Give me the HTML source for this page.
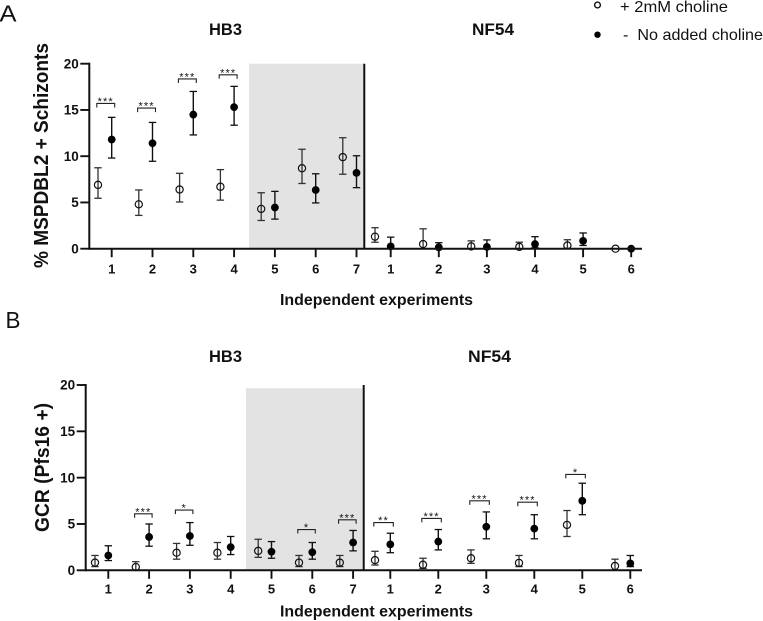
<!DOCTYPE html>
<html lang="en">
<head>
<meta charset="utf-8">
<title>Choline effect on schizonts and gametocyte conversion</title>
<style>
html,body{margin:0;padding:0;background:#fff;}
svg{display:block;}
text{font-family:"Liberation Sans",sans-serif;fill:#111;}
.b{font-weight:bold;}
</style>
</head>
<body>
<svg id="chart" width="763" height="621" viewBox="0 0 763 621" xmlns="http://www.w3.org/2000/svg">
  <rect width="763" height="621" fill="#fff"/>
  <text x="-0.5" y="21.5" font-size="23" textLength="17" lengthAdjust="spacingAndGlyphs">A</text>
  <text x="5.5" y="328" font-size="23" textLength="15" lengthAdjust="spacingAndGlyphs">B</text>

  <text class="b" x="209" y="34.8" font-size="16.5" textLength="33" lengthAdjust="spacingAndGlyphs">HB3</text>
  <text class="b" x="472" y="34.8" font-size="16.5" textLength="42" lengthAdjust="spacingAndGlyphs">NF54</text>
  <text class="b" x="209" y="361.8" font-size="16.5" textLength="33" lengthAdjust="spacingAndGlyphs">HB3</text>
  <text class="b" x="468" y="361.8" font-size="16.5" textLength="43" lengthAdjust="spacingAndGlyphs">NF54</text>

  <text class="b" transform="translate(48,268) rotate(-90)" x="0" y="0" font-size="20" textLength="225" lengthAdjust="spacingAndGlyphs">% MSPDBL2 + Schizonts</text>
  <text class="b" transform="translate(49,532) rotate(-90)" x="0" y="0" font-size="20" textLength="129" lengthAdjust="spacingAndGlyphs">GCR (Pfs16 +)</text>

  <text class="b" x="280" y="305" font-size="15.5" textLength="193" lengthAdjust="spacingAndGlyphs">Independent experiments</text>
  <text class="b" x="280" y="616.5" font-size="15.5" textLength="193" lengthAdjust="spacingAndGlyphs">Independent experiments</text>

  <g>
    <circle cx="597.5" cy="5" r="2.9" fill="#fff" stroke="#111" stroke-width="1.4"/>
    <text x="620" y="12" font-size="16" fill="#222" textLength="108" lengthAdjust="spacingAndGlyphs">+ 2mM choline</text>
    <circle cx="597.5" cy="34.7" r="3.2" fill="#000"/>
    <text x="623" y="40" font-size="16" fill="#222" textLength="140" lengthAdjust="spacingAndGlyphs" xml:space="preserve">-  No added choline</text>
  </g>
</svg>
<script>
// ---------- Panel A data ----------
const hb3Categories = ['1','2','3','4','5','6','7'];
const nf54Categories = ['1','2','3','4','5','6'];
const yTickLabels = [0,5,10,15,20];

const aHb3OpenMean = [6.9,4.8,6.4,6.7,4.3,8.7,9.9];
const aHb3OpenHigh = [8.75,6.35,8.15,8.55,6.05,10.75,12];
const aHb3OpenLow  = [5.45,3.6,5.05,5.25,3.05,7.05,8.05];
const aHb3FilledMean = [11.8,11.4,14.5,15.3,4.45,6.35,8.2];
const aHb3FilledHigh = [14.2,13.65,17,17.55,6.2,8.1,10.05];
const aHb3FilledLow  = [9.8,9.45,12.3,13.35,3.2,4.95,6.6];

const aNf54OpenMean = [1.3,0.5,0.25,0.2,0.35,0];
const aNf54OpenHigh = [2.27,2.15,0.85,0.7,0.97,0];
const aNf54OpenLow  = [0.7,0,0,0,0.05,0];
const aNf54FilledMean = [0.25,0.15,0.2,0.5,0.85,0];
const aNf54FilledHigh = [1.25,0.65,0.95,1.3,1.7,0];
const aNf54FilledLow  = [0,0,0,0.1,0.35,0];

const aHb3SigIndex = [0,1,2,3];
const aHb3SigLevel = [15.7,15.2,18.35,18.8];
const aHb3SigStars = ['***','***','***','***'];

// ---------- Panel B data ----------
const bHb3OpenMean = [0.83,0.35,1.9,1.9,2.1,0.83,0.83];
const bHb3OpenHigh = [1.6,0.93,2.9,3,3.35,1.6,1.6];
const bHb3OpenLow  = [0.4,0,1.2,1.2,1.4,0.4,0.4];
const bHb3FilledMean = [1.6,3.6,3.7,2.5,2,1.95,3];
const bHb3FilledHigh = [2.65,5,5.15,3.65,3.1,3,4.3];
const bHb3FilledLow  = [1.05,2.6,2.7,1.7,1.3,1.2,2.1];

const bNf54OpenMean = [1.1,0.6,1.3,0.8,4.9,0.47];
const bNf54OpenHigh = [2.05,1.3,2.2,1.6,6.45,1.2];
const bNf54OpenLow  = [0.57,0.2,0.75,0.4,3.65,0];
const bNf54FilledMean = [2.8,3.1,4.7,4.5,7.5,0.75];
const bNf54FilledHigh = [4,4.4,6.3,6,9.4,1.6];
const bNf54FilledLow  = [1.9,2.2,3.4,3.4,6,0.4];

const bHb3SigIndex = [1,2,5,6];
const bHb3SigLevel = [6.1,6.5,4.4,5.45];
const bHb3SigStars = ['***','*','*','***'];
const bNf54SigIndex = [0,1,2,3,4];
const bNf54SigLevel = [5.15,5.6,7.5,7.35,10.35];
const bNf54SigStars = ['**','***','***','***','*'];

const NS = 'http://www.w3.org/2000/svg';
const root = document.getElementById('chart');

function mk(parent, tag, attrs, txt) {
  const el = document.createElementNS(NS, tag);
  for (const k in attrs) el.setAttribute(k, attrs[k]);
  if (txt !== undefined) el.textContent = txt;
  parent.appendChild(el);
  return el;
}
function segment(parent, x1, y1, x2, y2, color, w) {
  return mk(parent, 'line', {x1:x1, y1:y1, x2:x2, y2:y2, stroke:color, 'stroke-width':w});
}

function drawGroupMarks(panel, scaleY, xTick, openOffset, cats, s, tickLabelY, group) {
  cats.forEach(function (cat, i) {
    const tx = xTick(i);
    const tick = segment(panel, tx, scaleY(0), tx, scaleY(0) + 8.5, '#111', 1.9);
    
    
    const lab = mk(panel, 'text', {x:tx, y:tickLabelY, 'font-size':13, 'font-weight':'bold', 'text-anchor':'middle'}, cat);
    
    

    // open series
    const ox = tx + openOffset;
    const og = mk(panel, 'g', {});
    
    
    segment(og, ox, scaleY(s.openHigh[i]), ox, scaleY(s.openLow[i]), '#333', 1.3);
    segment(og, ox - 3.7, scaleY(s.openHigh[i]), ox + 3.7, scaleY(s.openHigh[i]), '#333', 1.3);
    segment(og, ox - 3.7, scaleY(s.openLow[i]), ox + 3.7, scaleY(s.openLow[i]), '#333', 1.3);
    mk(og, 'circle', {cx:ox, cy:scaleY(s.openMean[i]), r:3.6, fill:'none', stroke:'#111', 'stroke-width':1.2});

    // filled series
    const fg = mk(panel, 'g', {});
    
    
    segment(fg, tx, scaleY(s.fillHigh[i]), tx, scaleY(s.fillLow[i]), '#111', 1.4);
    segment(fg, tx - 3.7, scaleY(s.fillHigh[i]), tx + 3.7, scaleY(s.fillHigh[i]), '#111', 1.3);
    segment(fg, tx - 3.7, scaleY(s.fillLow[i]), tx + 3.7, scaleY(s.fillLow[i]), '#111', 1.3);
    mk(fg, 'circle', {cx:tx, cy:scaleY(s.fillMean[i]), r:3.9, fill:'#000'});
  });
}

function drawBrackets(panel, scaleY, xTick, idx, levels, stars, openOffset) {
  idx.forEach(function (catIndex, i) {
    const g = mk(panel, 'g', {});
    
    
    const xr = xTick(catIndex) + 3;
    const xl = xTick(catIndex) + openOffset - 1.2;
    const y = scaleY(levels[i]);
    mk(g, 'path', {d:'M' + xl + ' ' + (y + 4) + 'V' + y + 'H' + xr + 'V' + (y + 4), fill:'none', stroke:'#222', 'stroke-width':1.1});
    mk(g, 'text', {x:(xl + xr) / 2, y:y + 1.5, 'font-size':11, 'text-anchor':'middle', 'letter-spacing':1.1, fill:'#222'}, stars[i]);
  });
}

function drawPanel(p) {
  const panel = mk(root, 'g', {});
  
  
  const scaleY = function (v) { return p.y0 + (p.y20 - p.y0) * v / 20; };
  const xHb3 = function (i) { return p.hb3Start + p.hb3Step * i; };
  const xNf54 = function (i) { return p.nfStart + p.nfStep * i; };

  const shade = mk(panel, 'rect', {x:p.shadeX, y:p.shadeTop, width:p.shadeW, height:p.y0 - p.shadeTop, fill:'#e3e3e3'});
  
  

  drawGroupMarks(panel, scaleY, xHb3, p.hb3Offset, hb3Categories, p.hb3, p.labelY, 'hb3');
  drawGroupMarks(panel, scaleY, xNf54, p.nfOffset, nf54Categories, p.nf, p.labelY, 'nf54');
  p.brackets.forEach(function (b) {
    drawBrackets(panel, scaleY, b.nf ? xNf54 : xHb3, b.idx, b.levels, b.stars, b.nf ? p.nfOffset : p.hb3Offset);
  });

  const yAxis = segment(panel, p.axisX, p.y20 - 1, p.axisX, p.y0 + 1, '#111', 2);
  
  
  const xAxis = segment(panel, p.axisX, p.y0, p.axisEnd, p.y0, '#111', 2);
  
  
  const divider = segment(panel, p.dividerX, p.y20, p.dividerX, p.y0, '#111', 2);
  
  

  yTickLabels.forEach(function (t) {
    const y = scaleY(t);
    const tick = segment(panel, p.axisX - 9, y, p.axisX, y, '#111', 1.9);
    
    
    const lab = mk(panel, 'text', {x:p.axisX - 10.5, y:y + 4.7, 'font-size':13.5, 'font-weight':'bold', 'text-anchor':'end'}, t);
    
    
  });
}

drawPanel({
  name:'panel-a-chart', y0:248.7, y20:63.7, axisX:89.3, axisEnd:642, dividerX:364.3,
  shadeX:249, shadeW:115, shadeTop:63.7, labelY:273.5,
  hb3Start:111.7, hb3Step:40.8, hb3Offset:-13.7,
  nfStart:390.7, nfStep:48.1, nfOffset:-15.7,
  hb3:{openMean:aHb3OpenMean, openHigh:aHb3OpenHigh, openLow:aHb3OpenLow, fillMean:aHb3FilledMean, fillHigh:aHb3FilledHigh, fillLow:aHb3FilledLow},
  nf:{openMean:aNf54OpenMean, openHigh:aNf54OpenHigh, openLow:aNf54OpenLow, fillMean:aNf54FilledMean, fillHigh:aNf54FilledHigh, fillLow:aNf54FilledLow},
  brackets:[{nf:false, idx:aHb3SigIndex, levels:aHb3SigLevel, stars:aHb3SigStars}]
});

drawPanel({
  name:'panel-b-chart', y0:570.3, y20:385, axisX:85.7, axisEnd:642, dividerX:363.7,
  shadeX:246, shadeW:116.5, shadeTop:388.3, labelY:593.5,
  hb3Start:108.3, hb3Step:40.8, hb3Offset:-13.3,
  nfStart:390.3, nfStep:48, nfOffset:-15.3,
  hb3:{openMean:bHb3OpenMean, openHigh:bHb3OpenHigh, openLow:bHb3OpenLow, fillMean:bHb3FilledMean, fillHigh:bHb3FilledHigh, fillLow:bHb3FilledLow},
  nf:{openMean:bNf54OpenMean, openHigh:bNf54OpenHigh, openLow:bNf54OpenLow, fillMean:bNf54FilledMean, fillHigh:bNf54FilledHigh, fillLow:bNf54FilledLow},
  brackets:[
    {nf:false, idx:bHb3SigIndex, levels:bHb3SigLevel, stars:bHb3SigStars},
    {nf:true, idx:bNf54SigIndex, levels:bNf54SigLevel, stars:bNf54SigStars}
  ]
});
</script>
</body>
</html>
